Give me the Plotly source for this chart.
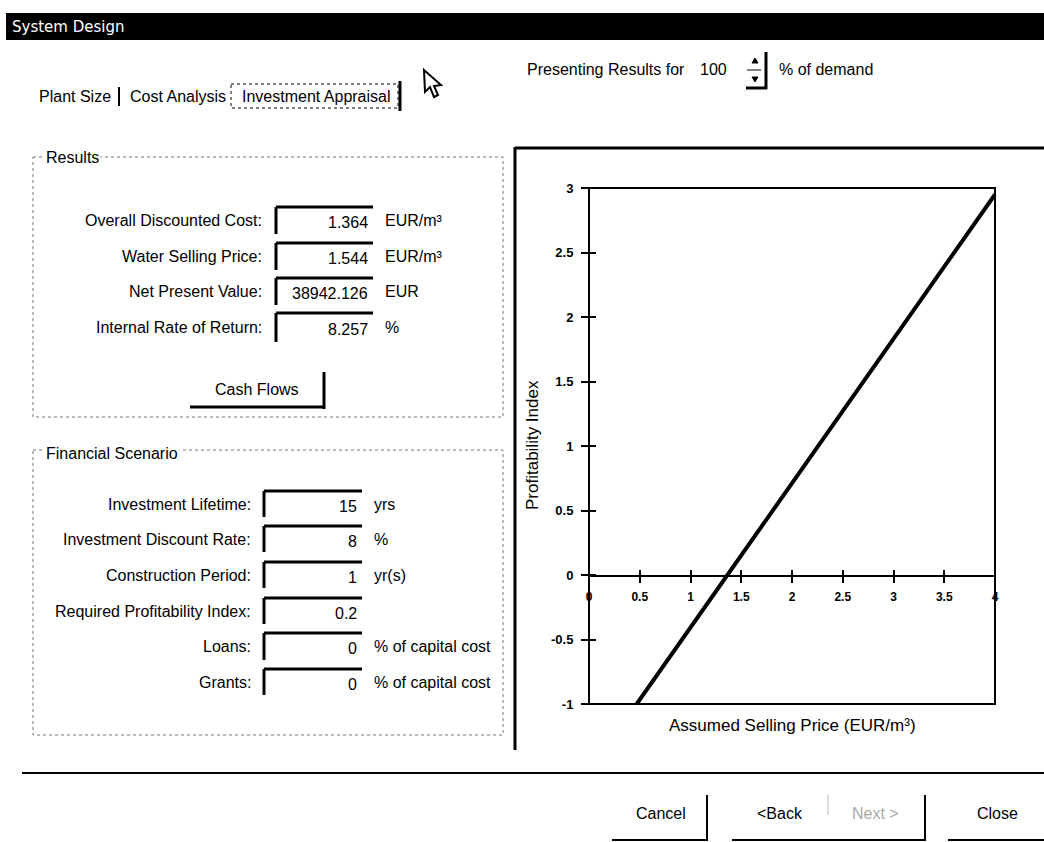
import plotly.graph_objects as go

# ---------------- data ----------------
price = [0.47, 1.0, 1.5, 2.0, 2.5, 3.0, 3.5, 4.0]
prof_index = [-1.0, -0.41, 0.15, 0.71, 1.27, 1.83, 2.39, 2.95]

x_tickvals = [0, 0.5, 1, 1.5, 2, 2.5, 3, 3.5, 4]
x_ticktext = ["0", "0.5", "1", "1.5", "2", "2.5", "3", "3.5", "4"]
y_tickvals = [-1, -0.5, 0, 0.5, 1, 1.5, 2, 2.5, 3]
y_ticktext = ["-1", "-0.5", "0", "0.5", "1", "1.5", "2", "2.5", "3"]

results_labels = ["Overall Discounted Cost:", "Water Selling Price:",
                  "Net Present Value:", "Internal Rate of Return:"]
results_values = ["1.364", "1.544", "38942.126", "8.257"]
results_units = ["EUR/m³", "EUR/m³", "EUR", "%"]

scen_labels = ["Investment Lifetime:", "Investment Discount Rate:",
               "Construction Period:", "Required Profitability Index:",
               "Loans:", "Grants:"]
scen_values = ["15", "8", "1", "0.2", "0", "0"]
scen_units = ["yrs", "%", "yr(s)", "", "% of capital cost", "% of capital cost"]

tabs = ["Plant Size", "Cost Analysis", "Investment Appraisal"]
demand_pct = "100"

# ---------------- geometry helpers (pixel -> paper) ----------------
W, H = 1044, 842
PL, PR, PT, PB = 589, 995, 188, 704
def px(x):
    return (x - PL) / (PR - PL)
def py(y):
    return (PB - y) / (PB - PT)

FONT = "Liberation Sans, Arial, sans-serif"
shapes = []
annotations = []

def line(x0, y0, x1, y1, w=2, color="black", dash="solid"):
    shapes.append(dict(type="line", xref="paper", yref="paper",
                       x0=px(x0), y0=py(y0), x1=px(x1), y1=py(y1),
                       line=dict(color=color, width=w, dash=dash)))

def rect(x0, y0, x1, y1, w=1, color="black", dash="solid", fill="rgba(0,0,0,0)"):
    shapes.append(dict(type="rect", xref="paper", yref="paper",
                       x0=px(x0), y0=py(y0), x1=px(x1), y1=py(y1),
                       line=dict(color=color, width=w, dash=dash), fillcolor=fill))

def text(x, y, s, size=16, anchor="left", color="black", bg=None, family=FONT,
         weight="normal", angle=0):
    a = dict(xref="paper", yref="paper", x=px(x), y=py(y), text=s,
             showarrow=False, xanchor=anchor, yanchor="middle",
             font=dict(family=family, size=size, color=color, weight=weight),
             textangle=angle)
    if bg:
        a["bgcolor"] = bg
    annotations.append(a)

# title bar
rect(6, 13, 1044, 40, w=0, fill="black")
text(10, 27, "System Design", size=15, color="white", family="DejaVu Sans")

# tabs
text(37, 97, tabs[0])
line(119, 87, 119, 106, w=2)
text(128, 97, tabs[1])
rect(231, 84, 398, 108, w=1, dash="dot")
text(240, 97, tabs[2])
line(400, 81, 400, 111, w=3)

# mouse cursor
shapes.append(dict(type="path", xref="paper", yref="paper",
                   path="M {} {} L {} {} L {} {} L {} {} L {} {} L {} {} L {} {} Z".format(
                       px(424), py(70), px(425), py(92), px(430), py(87),
                       px(434), py(97), px(438), py(95), px(434), py(86),
                       px(441), py(85)),
                   line=dict(color="black", width=2), fillcolor="white"))

# presenting results
text(525, 69, "Presenting Results for")
text(698, 69, demand_pct)
line(747, 70, 761, 70, w=1)
line(766, 52, 766, 89, w=3)
line(746, 88, 767, 88, w=3)
shapes.append(dict(type="path", xref="paper", yref="paper",
                   path="M {} {} L {} {} L {} {} Z".format(px(752), py(63), px(758), py(63), px(755), py(58)),
                   fillcolor="black", line=dict(color="black", width=1)))
shapes.append(dict(type="path", xref="paper", yref="paper",
                   path="M {} {} L {} {} L {} {} Z".format(px(752), py(77), px(758), py(77), px(755), py(82)),
                   fillcolor="black", line=dict(color="black", width=1)))
text(777, 69, "% of demand")

# group boxes
rect(33, 157, 503, 417, w=1, color="#777", dash="dot")
text(44, 158, "Results", bg="white")
rect(33, 450, 503, 735, w=1, color="#777", dash="dot")
text(44, 453, "Financial Scenario", bg="white")

def field(label, value, unit, lab_right, bx0, bx1, by0, by1, unit_x):
    cy = (by0 + by1) / 2
    text(lab_right, cy, label, anchor="right")
    line(bx0, by0, bx1, by0, w=3)
    line(bx0, by0, bx0, by1, w=3)
    text(bx1 - 3, cy + 2, value, anchor="right")
    if unit:
        text(unit_x, cy, unit)

r_boxes = [(207, 234), (243, 270), (278, 305), (313, 342)]
for lab, val, unit, (b0, b1) in zip(results_labels, results_values, results_units, r_boxes):
    field(lab, val, unit, 264, 276, 373, b0, b1, 383)

# Cash Flows button
text(257, 389, "Cash Flows", anchor="center")
line(324, 372, 324, 409, w=3)
line(190, 407, 325, 407, w=3)

s_boxes = [(491, 517), (526, 552), (562, 588), (598, 624), (633, 660), (669, 695)]
for lab, val, unit, (b0, b1) in zip(scen_labels, scen_values, scen_units, s_boxes):
    field(lab, val, unit, 253, 264, 362, b0, b1, 372)

# chart panel borders
line(515, 148, 1044, 148, w=3)
line(515, 147, 515, 750, w=3)

# separator
line(22, 773, 1044, 773, w=2)

# bottom buttons
text(661, 813, "Cancel", anchor="center")
line(707, 795, 707, 841, w=2)
line(612, 840, 708, 840, w=2)
text(780, 813, "<Back", anchor="center")
line(828, 795, 828, 815, w=1, color="#bbb")
text(875, 813, "Next >", anchor="center", color="#aaa")
line(925, 795, 925, 841, w=2)
line(732, 840, 926, 840, w=2)
text(997, 813, "Close", anchor="center")
line(948, 840, 1044, 840, w=2)

# chart plot box
rect(589, 188, 995, 704, w=2)

# axis titles
text(792, 725, "Assumed Selling Price (EUR/m³)", size=17, anchor="center")
annotations.append(dict(xref="paper", yref="paper", x=px(532), y=py(445),
                        text="Profitability Index", showarrow=False, textangle=-90,
                        xanchor="center", yanchor="middle",
                        font=dict(family=FONT, size=17, color="black")))

# ---------------- figure ----------------
fig = go.Figure()
fig.add_trace(go.Scatter(x=price, y=prof_index, mode="lines",
                         line=dict(color="black", width=4), showlegend=False,
                         hoverinfo="skip"))
# helper trace so that overlay axes (inner tick marks) are drawn
fig.add_trace(go.Scatter(x=[None], y=[None], xaxis="x2", yaxis="y2",
                         mode="lines", showlegend=False, hoverinfo="skip"))

xtickfont = dict(family=FONT, size=12, color="black", weight="bold")
ytickfont = dict(family=FONT, size=13, color="black", weight="bold")
fig.update_layout(
    width=W, height=H,
    margin=dict(l=PL, r=W - PR, t=PT, b=H - PB, pad=0),
    paper_bgcolor="white", plot_bgcolor="white",
    font=dict(family=FONT, color="black"),
    showlegend=False,
    xaxis=dict(range=[0, 4], anchor="free", position=py(575.7),
               showline=True, linewidth=2, linecolor="black",
               ticks="outside", ticklen=6, tickwidth=2, tickcolor="black",
               tickvals=x_tickvals, ticktext=x_ticktext, tickfont=xtickfont,
               ticklabelstandoff=4,
               showgrid=False, zeroline=False, fixedrange=True),
    xaxis2=dict(range=[0, 4], overlaying="x", anchor="free", position=py(575.7),
                showline=False, ticks="inside", ticklen=6, tickwidth=2, tickcolor="black",
                tickvals=x_tickvals, showticklabels=False,
                showgrid=False, zeroline=False),
    yaxis=dict(range=[-1, 3], anchor="free", position=0,
               showline=True, linewidth=2, linecolor="black",
               ticks="outside", ticklen=7, tickwidth=2, tickcolor="black",
               tickvals=y_tickvals, ticktext=y_ticktext, tickfont=ytickfont,
               ticklabelstandoff=5,
               showgrid=False, zeroline=False, fixedrange=True),
    yaxis2=dict(range=[-1, 3], overlaying="y", anchor="free", position=0,
                showline=False, ticks="inside", ticklen=6, tickwidth=2, tickcolor="black",
                tickvals=y_tickvals, showticklabels=False,
                showgrid=False, zeroline=False),
    shapes=shapes,
    annotations=annotations,
)

fig.write_html("out.html", config={"displayModeBar": False},
               post_script="document.body.style.margin='0';document.body.style.padding='0';")
